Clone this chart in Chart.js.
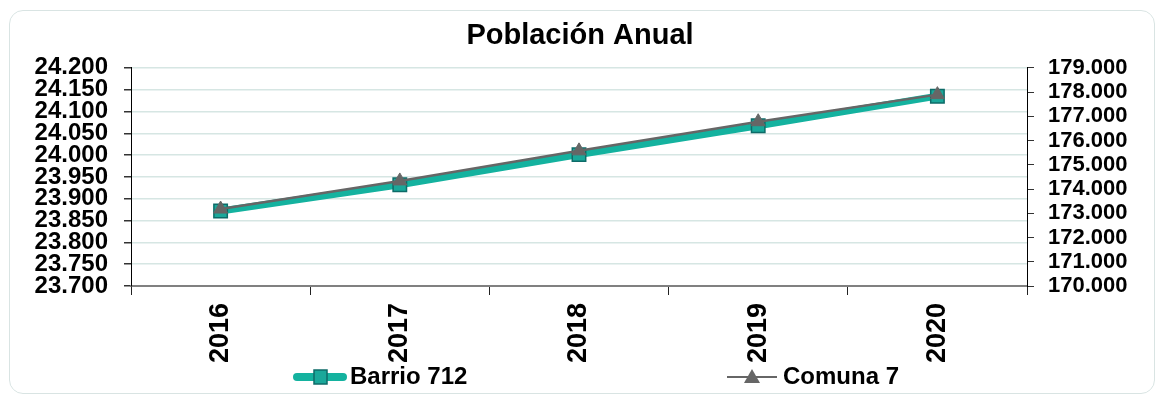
<!DOCTYPE html>
<html lang="es">
<head>
<meta charset="utf-8">
<title>Población Anual</title>
<script src="https://cdn.jsdelivr.net/npm/chart.js@4/dist/chart.umd.min.js"></script>
<style>
  html, body { margin: 0; padding: 0; background: #fff; }
  #wrap { position: relative; width: 1160px; height: 398px; }
  #marco {
    position: absolute; left: 9px; top: 10px; width: 1144px; height: 382px;
    border: 1px solid #d9e4e3; border-radius: 14px; pointer-events: none;
  }
</style>
</head>
<body>
<div id="wrap">
  <canvas id="grafico" width="1160" height="398"></canvas>
  <div id="marco"></div>
</div>
<script>
const ANIOS = ['2016', '2017', '2018', '2019', '2020'];
const BARRIO_712 = [23872, 23932, 24001, 24067, 24135];
const COMUNA_7 = [173175, 174334, 175575, 176776, 177893];

const FUENTE = "'Liberation Sans', Arial, sans-serif";

function formatoMiles(v) {
  return String(v).replace(/\B(?=(\d{3})+(?!\d))/g, '.');
}

// leyenda dibujada a mano: en el original se superpone a las etiquetas del eje x
const leyendaManual = {
  id: 'leyendaManual',
  afterDraw(chart) {
    const c = chart.ctx;
    const y = 377;
    c.save();
    c.font = `bold 24px ${FUENTE}`;
    c.fillStyle = '#000';
    c.textBaseline = 'middle';

    // Barrio 712
    c.strokeStyle = '#14b29f';
    c.lineWidth = 8;
    c.lineCap = 'round';
    c.beginPath(); c.moveTo(297, y); c.lineTo(343, y); c.stroke();
    c.fillStyle = '#1aa89a';
    c.strokeStyle = '#0e6b68';
    c.lineWidth = 1.5;
    c.fillRect(314, y - 7, 13, 14);
    c.strokeRect(314, y - 7, 13, 14);
    c.fillStyle = '#000';
    c.fillText(chart.data.datasets[0].label, 350, y);

    // Comuna 7
    c.strokeStyle = '#666';
    c.lineWidth = 2;
    c.lineCap = 'butt';
    c.beginPath(); c.moveTo(727, y); c.lineTo(777, y); c.stroke();
    c.fillStyle = '#666';
    c.beginPath(); c.moveTo(752, y - 8); c.lineTo(760, y + 6); c.lineTo(744, y + 6); c.closePath(); c.fill();
    c.fillStyle = '#000';
    c.fillText(chart.data.datasets[1].label, 783, y);
    c.restore();
  }
};

const ctx = document.getElementById('grafico').getContext('2d');
new Chart(ctx, {
  type: 'line',
  data: {
    labels: ANIOS,
    datasets: [
      {
        label: 'Barrio 712',
        data: BARRIO_712,
        yAxisID: 'y',
        borderColor: '#14b29f',
        borderWidth: 7,
        pointStyle: 'rect',
        pointRadius: 9.5,
        pointBackgroundColor: '#1aa89a',
        pointBorderColor: '#0e6b68',
        pointBorderWidth: 1.5,
        order: 1,
      },
      {
        label: 'Comuna 7',
        data: COMUNA_7,
        yAxisID: 'y1',
        borderColor: '#666666',
        borderWidth: 2.5,
        pointStyle: 'triangle',
        pointRadius: 8,
        pointBackgroundColor: '#666666',
        pointBorderColor: '#666666',
        pointBorderWidth: 1,
        order: 0,
      }
    ]
  },
  options: {
    responsive: false,
    animation: false,
    layout: { padding: 0 },
    plugins: {
      legend: { display: false },
      tooltip: { enabled: false },
      title: {
        display: true,
        text: 'Población Anual',
        color: '#000',
        font: { family: FUENTE, size: 29, weight: 'bold' },
        padding: { top: 19, bottom: 14 }
      }
    },
    scales: {
      x: {
        offset: true,
        grid: { offset: true, drawOnChartArea: false, tickLength: 9, tickColor: '#222' },
        border: { color: '#808080', width: 2 },
        ticks: {
          color: '#000',
          font: { family: FUENTE, size: 27, weight: 'bold' },
          minRotation: 90, maxRotation: 90,
          padding: 8,
          autoSkip: false
        },
        afterFit(scale) { scale.height = 112; }
      },
      y: {
        position: 'left',
        min: 23700, max: 24200,
        grid: { color: '#d6e6e3', lineWidth: 1.5, tickLength: 7, tickColor: '#333' },
        border: { color: '#000', width: 1 },
        ticks: {
          stepSize: 50,
          autoSkip: false,
          padding: 16,
          color: '#000',
          font: { family: FUENTE, size: 24, weight: 'bold' },
          callback: v => formatoMiles(v)
        },
        afterFit(scale) { scale.width = 131; }
      },
      y1: {
        position: 'right',
        min: 170000, max: 179000,
        grid: { drawOnChartArea: false, tickLength: 7, tickColor: '#333' },
        border: { color: '#000', width: 1 },
        ticks: {
          stepSize: 1000,
          autoSkip: false,
          padding: 14,
          color: '#000',
          font: { family: FUENTE, size: 22, weight: 'bold' },
          callback: v => formatoMiles(v)
        },
        afterFit(scale) { scale.width = 133; }
      }
    }
  },
  plugins: [leyendaManual]
});
</script>
</body>
</html>
